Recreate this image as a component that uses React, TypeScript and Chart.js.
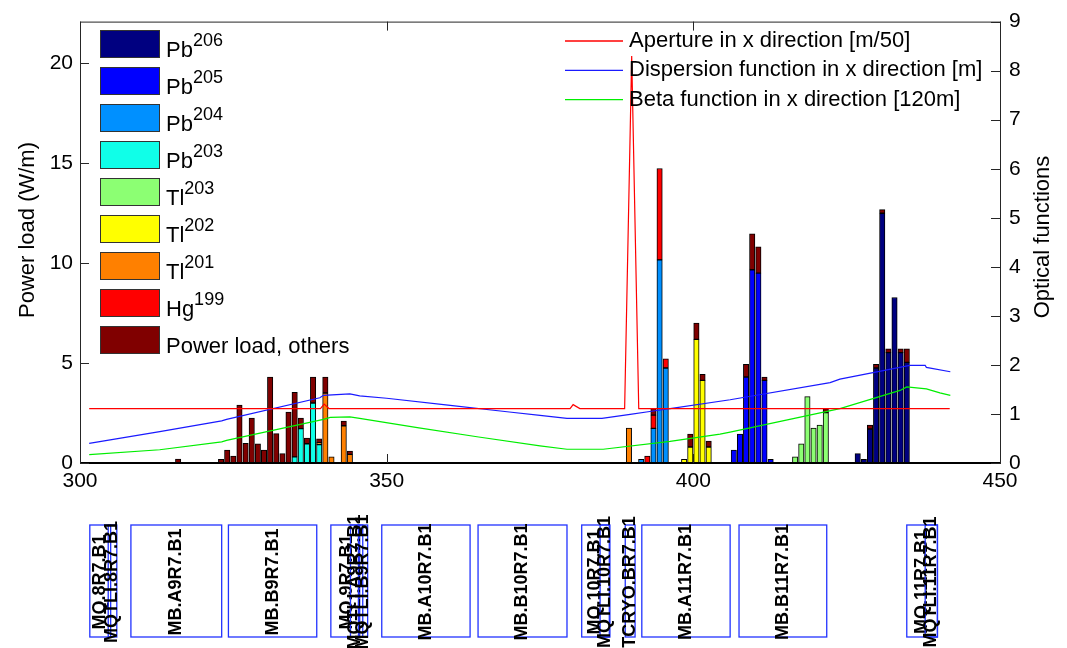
import React, { useEffect, useRef } from 'react';
import { Chart, registerables } from 'chart.js';
Chart.register(...registerables);

const FONT = '"Liberation Sans", Arial, Helvetica, sans-serif';

// ---- x-axis ticks
const xTicks = [300, 350, 400, 450];

// ---- stacked bar series (position in m, power load in W/m)
const pb206X = [426.8, 427.8, 428.8, 429.8, 430.8, 431.8, 432.8, 433.8, 434.8];
const pb206Y = [0.47, 0.18, 1.7, 4.75, 12.48, 5.52, 8.27, 5.52, 5.03];
const pb205X = [406.6, 407.6, 408.6, 409.6, 410.6, 411.6, 412.6];
const pb205Y = [0.64, 1.45, 4.3, 9.66, 9.49, 4.13, 0.18];
const pb204X = [391.5, 393.5, 394.5, 395.5];
const pb204Y = [0.18, 1.73, 10.15, 4.75];
const pb203X = [335, 336, 337, 338, 339];
const pb203Y = [0.31, 1.72, 0.96, 3.0, 0.92];
const tl203X = [416.6, 417.6, 418.6, 419.6, 420.6, 421.6];
const tl203Y = [0.31, 0.96, 3.32, 1.75, 1.9, 2.52];
const tl202X = [398.5, 399.5, 400.5, 401.5, 402.5];
const tl202Y = [0.18, 0.8, 6.18, 4.13, 0.8];
const tl201X = [339, 340, 341, 343, 344, 389.5];
const tl201Y = [0.1, 3.5, 0.31, 1.86, 0.43, 1.75];
const hg199X = [392.5, 393.5, 394.5, 395.5];
const hg199Y = [0.34, 0.66, 4.57, 0.46];
const othersX = [316, 323, 324, 325, 326, 327, 328, 329, 330, 331, 332, 333, 334, 335, 336, 337, 338, 339, 340, 343, 344,
  393.5, 399.5, 400.5, 401.5, 402.5, 408.6, 409.6, 410.6, 411.6, 421.6, 428.8, 429.8, 430.8, 431.8, 433.8, 434.8];
const othersY = [0.2, 0.18, 0.64, 0.34, 2.89, 0.98, 2.24, 0.96, 0.64, 4.3, 1.47, 0.47, 2.55, 3.22, 0.52, 0.28, 1.3, 0.19, 0.8, 0.23, 0.17,
  0.34, 0.65, 0.81, 0.3, 0.29, 0.63, 1.79, 1.31, 0.17, 0.19, 0.2, 0.18, 0.18, 0.18, 0.18, 0.67];

// ---- optical functions (right axis)
const apertureX = [301.5, 339.2, 339.8, 340.6, 379.9, 380.4, 381.5, 388.8, 389.95, 391.1, 441.8];
const apertureY = [1.11, 1.11, 1.2, 1.11, 1.11, 1.19, 1.11, 1.11, 8.3, 1.11, 1.11];
const dispersionX = [301.5, 313, 323.1, 323.9, 339.1, 339.7, 344, 345.6, 350, 360, 370, 375, 379.4, 385.1, 389.7, 392.9, 396.2, 406, 422.3, 423.9, 435.3, 437.8, 438, 441.9];
const dispersionY = [0.4, 0.64, 0.86, 0.89, 1.33, 1.38, 1.41, 1.37, 1.32, 1.18, 1.04, 0.97, 0.91, 0.91, 0.99, 1.05, 1.11, 1.29, 1.64, 1.71, 1.99, 1.99, 1.95, 1.86];
const betaX = [301.5, 313, 323.1, 323.9, 339.7, 340.8, 344, 345.6, 355, 365, 375, 379.4, 385.3, 396.2, 404.35, 406, 423.9, 433.7, 434.8, 438, 440.2, 441.9];
const betaY = [0.17, 0.27, 0.43, 0.46, 0.89, 0.93, 0.94, 0.91, 0.72, 0.53, 0.35, 0.28, 0.28, 0.44, 0.59, 0.63, 1.11, 1.48, 1.55, 1.51, 1.43, 1.38];

// ---- magnet layout
const elementNames = ['MQ.8R7.B1', 'MQTLI.8R7.B1', 'MB.A9R7.B1', 'MB.B9R7.B1', 'MQ.9R7.B1', 'MQTLI.A9R7.B1', 'MQTLI.B9R7.B1',
  'MB.A10R7.B1', 'MB.B10R7.B1', 'MQ.10R7.B1', 'MQTLI.10R7.B1', 'TCRYO.BR7.B1', 'MB.A11R7.B1', 'MB.B11R7.B1', 'MQ.11R7.B1', 'MQTLI.11R7.B1'];
const elementStart = [301.6, 304.6, 308.3, 324.2, 340.9, 344.1, 345.4, 349.2, 364.9, 381.8, 384.8, 388.9, 391.6, 407.45, 434.8, 437.8];
const elementEnd = [305.0, 306.0, 323.1, 338.6, 346.1, 345.6, 346.9, 363.6, 379.4, 386.3, 386.4, 390.5, 406.0, 421.75, 439.8, 439.8];

const barNames = ['Pb206', 'Pb205', 'Pb204', 'Pb203', 'Tl203', 'Tl202', 'Tl201', 'Hg199', 'Power load, others'];
const barBase = ['Pb', 'Pb', 'Pb', 'Pb', 'Tl', 'Tl', 'Tl', 'Hg', 'Power load, others'];
const barSup = ['206', '205', '204', '203', '203', '202', '201', '199', ''];
const barColors = ['#000080', '#0000ff', '#0090ff', '#10ffe8', '#8cff73', '#ffff00', '#ff8000', '#ff0000', '#800000'];
const barXs = [pb206X, pb205X, pb204X, pb203X, tl203X, tl202X, tl201X, hg199X, othersX];
const barYs = [pb206Y, pb205Y, pb204Y, pb203Y, tl203Y, tl202Y, tl201Y, hg199Y, othersY];

const lineNames = ['Aperture in x direction [m/50]', 'Dispersion function in x direction [m]', 'Beta function in x direction [120m]'];
const lineColors = ['#ff0000', '#1a1aff', '#00ee00'];
const lineXs = [apertureX, dispersionX, betaX];
const lineYs = [apertureY, dispersionY, betaY];

const pts = (xs: number[], ys: number[]) => xs.map((x, i) => ({ x, y: ys[i] }));

const decorPlugin = {
  id: 'decor',
  afterDraw(chart: any) {
    const ctx = chart.ctx as CanvasRenderingContext2D;
    const { left, right, top, bottom } = chart.chartArea;
    const xs = chart.scales.x, ys = chart.scales.y, y2 = chart.scales.y2;
    ctx.save();
    // frame
    ctx.strokeStyle = '#262626';
    ctx.lineWidth = 1;
    ctx.strokeRect(left + 0.5, top + 0.5, right - left, bottom - top);
    ctx.strokeStyle = '#000';
    ctx.lineWidth = 2;
    ctx.beginPath();
    ctx.moveTo(left, bottom);
    ctx.lineTo(right, bottom);
    ctx.stroke();
    // inward ticks
    ctx.lineWidth = 1;
    ctx.strokeStyle = '#262626';
    const TL = 9;
    ctx.beginPath();
    xs.ticks.forEach((t: any) => {
      const p = Math.round(xs.getPixelForValue(t.value)) + 0.5;
      ctx.moveTo(p, bottom); ctx.lineTo(p, bottom - TL);
      ctx.moveTo(p, top); ctx.lineTo(p, top + TL);
    });
    ys.ticks.forEach((t: any) => {
      const p = Math.round(ys.getPixelForValue(t.value)) + 0.5;
      ctx.moveTo(left, p); ctx.lineTo(left + TL, p);
    });
    y2.ticks.forEach((t: any) => {
      const p = Math.round(y2.getPixelForValue(t.value)) + 0.5;
      ctx.moveTo(right, p); ctx.lineTo(right - TL, p);
    });
    ctx.stroke();

    // axis titles
    ctx.fillStyle = '#000';
    ctx.font = `22px ${FONT}`;
    ctx.textAlign = 'center';
    ctx.textBaseline = 'middle';
    ctx.save(); ctx.translate(28, 230); ctx.rotate(-Math.PI / 2); ctx.fillText('Power load (W/m)', 0, 0); ctx.restore();
    ctx.save(); ctx.translate(1043, 237); ctx.rotate(-Math.PI / 2); ctx.fillText('Optical functions', 0, 0); ctx.restore();

    // legend 1 (bars)
    ctx.textAlign = 'left';
    ctx.textBaseline = 'alphabetic';
    barNames.forEach((_, i) => {
      const by = 30 + i * 37;
      ctx.fillStyle = barColors[i];
      ctx.fillRect(100, by, 59, 27);
      ctx.strokeStyle = '#333';
      ctx.lineWidth = 1;
      ctx.strokeRect(100.5, by + 0.5, 59, 27);
      ctx.fillStyle = '#000';
      ctx.font = `22px ${FONT}`;
      ctx.fillText(barBase[i], 166, by + 27);
      if (barSup[i]) {
        const w = ctx.measureText(barBase[i]).width;
        ctx.font = `18px ${FONT}`;
        ctx.fillText(barSup[i], 166 + w, by + 16);
      }
    });
    // legend 2 (lines)
    ctx.textBaseline = 'middle';
    ctx.font = `22px ${FONT}`;
    lineNames.forEach((n, i) => {
      const ly = 41 + i * 29.3;
      ctx.strokeStyle = lineColors[i];
      ctx.lineWidth = 1.3;
      ctx.beginPath();
      ctx.moveTo(565, ly);
      ctx.lineTo(623, ly);
      ctx.stroke();
      ctx.fillStyle = '#000';
      ctx.fillText(n, 629, ly);
    });

    // magnet layout boxes
    const boxTop = 525, boxBottom = 637;
    elementNames.forEach((name, i) => {
      const x0 = xs.getPixelForValue(elementStart[i]);
      const x1 = xs.getPixelForValue(elementEnd[i]);
      ctx.strokeStyle = '#2233ff';
      ctx.lineWidth = 1.3;
      ctx.strokeRect(x0, boxTop, x1 - x0, boxBottom - boxTop);
      ctx.save();
      ctx.translate((x0 + x1) / 2, (boxTop + boxBottom) / 2 + 1);
      ctx.rotate(-Math.PI / 2);
      ctx.fillStyle = '#000';
      ctx.font = `bold 18px ${FONT}`;
      ctx.textAlign = 'center';
      ctx.textBaseline = 'middle';
      ctx.fillText(name, 0, 0);
      ctx.restore();
    });
    ctx.restore();
  },
};

export default function App() {
  const ref = useRef<HTMLCanvasElement>(null);
  useEffect(() => {
    const lineSets = lineNames.map((n, i) => ({
      type: 'line' as const,
      label: n,
      data: pts(lineXs[i], lineYs[i]),
      borderColor: lineColors[i],
      backgroundColor: lineColors[i],
      borderWidth: 1.2,
      pointRadius: 0,
      tension: 0,
      fill: false,
      yAxisID: 'y2',
      order: 0,
    }));
    const barSets = barNames.map((n, i) => ({
      type: 'bar' as const,
      label: n,
      data: pts(barXs[i], barYs[i]),
      backgroundColor: barColors[i],
      borderColor: '#000',
      borderWidth: 1,
      borderSkipped: false,
      barThickness: 5.4,
      yAxisID: 'y',
      order: 1,
    }));
    const tickFont = { family: FONT, size: 21 };
    const chart = new Chart(ref.current!, {
      type: 'bar',
      data: { datasets: [...lineSets, ...barSets] as any },
      options: {
        responsive: false,
        animation: false,
        devicePixelRatio: 1,
        layout: { padding: { top: 13, left: 0, right: 0, bottom: 0 } },
        plugins: { legend: { display: false }, tooltip: { enabled: false } },
        scales: {
          x: {
            type: 'linear',
            min: 300,
            max: 450,
            offset: false,
            grace: 0,
            stacked: true,
            afterBuildTicks: (s: any) => { s.ticks = xTicks.map((v) => ({ value: v })); },
            afterFit: (s: any) => { s.height = 185; },
            grid: { display: false, drawTicks: false, offset: false },
            border: { display: false },
            ticks: { font: tickFont, color: '#000', padding: 6, maxRotation: 0, autoSkip: false },
          },
          y: {
            position: 'left',
            min: 0,
            max: 22.06,
            stacked: true,
            afterFit: (s: any) => { s.width = 80; },
            grid: { display: false, drawTicks: false },
            border: { display: false },
            ticks: { stepSize: 5, includeBounds: false, font: tickFont, color: '#000', padding: 7 },
          },
          y2: {
            position: 'right',
            min: 0,
            max: 9,
            afterFit: (s: any) => { s.width = 67; },
            grid: { display: false, drawTicks: false },
            border: { display: false },
            ticks: { stepSize: 1, font: tickFont, color: '#000', padding: 9 },
          },
        },
      } as any,
      plugins: [decorPlugin],
    });
    return () => chart.destroy();
  }, []);
  return (
    <div style={{ position: 'fixed', left: 0, top: 0, width: 1067, height: 648, background: '#fff' }}>
      <canvas ref={ref} width={1067} height={648} style={{ display: 'block', width: 1067, height: 648 }} />
    </div>
  );
}
